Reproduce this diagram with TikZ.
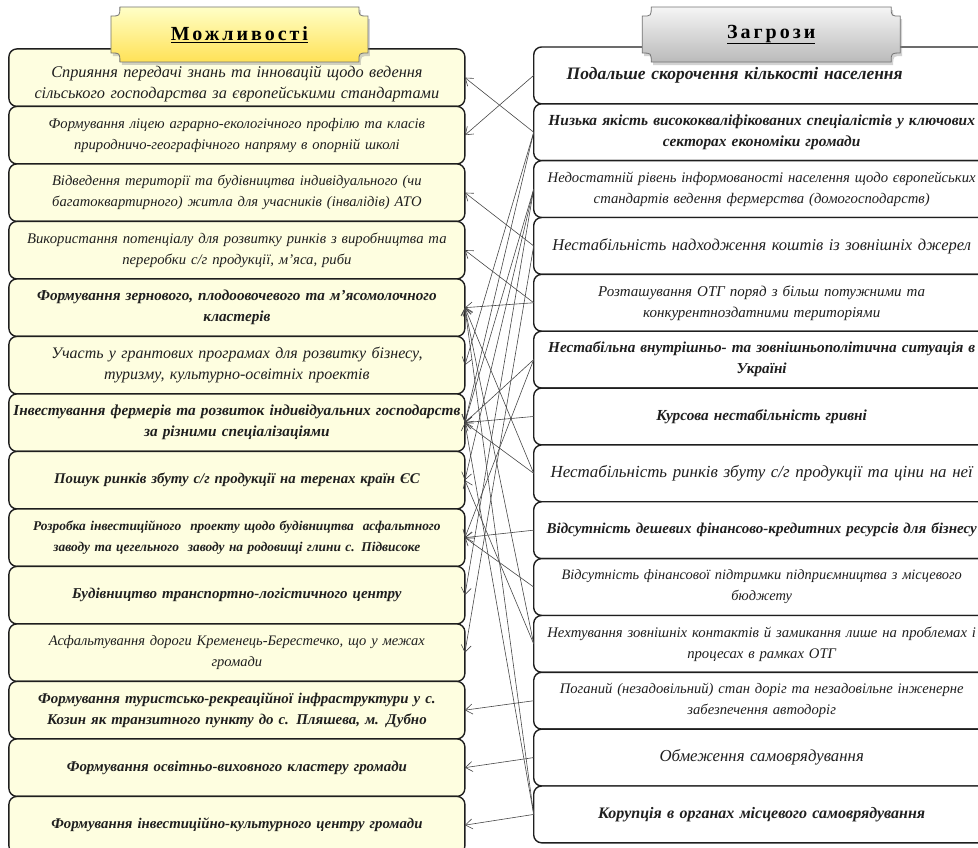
\documentclass[tikz,border=0pt]{standalone}
\usepackage{fontspec}
\setmainfont{Liberation Serif}
\newfontfamily\hdrfont[LetterSpace=15]{Liberation Serif}
\usepackage{tikz}
\usetikzlibrary{arrows.meta,
                matrix,
                positioning,
                shadows}
\definecolor{cellY}{HTML}{FEFEE0}
\definecolor{lineK}{HTML}{1E1E1E}

% plaque with concave corners: centre, half width, half height, style
\newcommand\plaque[4]{%
  \draw[#4] ([shift={(-#2+9,#3)}]#1) -- ([shift={(#2-9,#3)}]#1)
     .. controls ([shift={(#2-9,#3-9)}]#1) .. ([shift={(#2,#3-9)}]#1)
     -- ([shift={(#2,-#3+9)}]#1)
     .. controls ([shift={(#2-9,-#3+9)}]#1) .. ([shift={(#2-9,-#3)}]#1)
     -- ([shift={(-#2+9,-#3)}]#1)
     .. controls ([shift={(-#2+9,-#3+9)}]#1) .. ([shift={(-#2,-#3+9)}]#1)
     -- ([shift={(-#2,#3-9)}]#1)
     .. controls ([shift={(-#2+9,#3-9)}]#1) .. ([shift={(-#2+9,#3)}]#1)
     -- cycle;}

\begin{document}
\begin{tikzpicture}[x=1pt, y=1pt,
node distance = 67pt,
  MTRX/.style = {matrix of nodes, inner sep=0pt,
                 nodes={draw=lineK, line width=1.4pt, rounded corners=8pt,
                        minimum width=456pt,
                        text width=452pt, align=center, text=black!88,
                        anchor=center, inner sep=1pt, outer sep=0pt},
                 row sep=-1.4pt},
    IT/.style = {font=\fontsize{#1}{21}\selectfont\itshape},
    BI/.style = {font=\fontsize{#1}{21}\selectfont\bfseries\itshape},
  link/.style = {-{Straight Barb[length=7pt,width=10pt]},
                 line width=0.6pt, draw=black!72},
  plqL/.style = {draw=black!55, line width=0.8pt,
                 top color=yellow!22, bottom color=orange!35!yellow!66,
                 drop shadow={opacity=0.35, shadow xshift=2pt, shadow yshift=-3pt}},
  plqR/.style = {draw=black!55, line width=0.8pt,
                 top color=black!4, bottom color=black!27,
                 drop shadow={opacity=0.35, shadow xshift=2pt, shadow yshift=-3pt}}
                        ]
\useasboundingbox (0,0) rectangle (978,-848);
\clip (0,0) rectangle (978,-848);
% left column
\matrix  (m1) [MTRX, anchor=north west,
               nodes={fill=cellY, minimum height=57.5pt}] at (8,-48)
{
|[IT=16.3]| {\rule{0pt}{24pt}Сприяння передачі знань та інновацій щодо ведення\\ сільського господарства за європейськими стандартами}\\
|[IT=14.6]| {Формування ліцею аграрно-екологічного профілю та класів\\ природничо-географічного напряму в опорній школі}\\
|[IT=14.6]| {Відведення території та будівництва індивідуального (чи\\ багатоквартирного) житла для учасників (інвалідів) АТО}\\
|[IT=14.7]| {Використання потенціалу для розвитку ринків з виробництва та\\ переробки с/г продукції, м’яса, риби}\\
|[BI=15.2]| {Формування зернового, плодоовочевого та м’ясомолочного\\ кластерів}\\
|[IT=16]|   {Участь у грантових програмах для розвитку бізнесу,\\ туризму, культурно-освітніх проектів}\\
|[BI=15.3]| {Інвестування фермерів та розвиток індивідуальних господарств\\ за різними спеціалізаціями}\\
|[BI=14.8]| {Пошук ринків збуту с/г продукції на теренах країн ЄС}\\
|[BI=13.4]| {Розробка інвестиційного \ проекту щодо будівництва \ асфальтного\\ заводу та цегельного \ заводу на родовищі глини с. Підвисоке}\\
|[BI=15]|   {Будівництво транспортно-логістичного центру}\\
|[IT=14.5]| {Асфальтування дороги Кременець-Берестечко, що у межах\\ громади}\\
|[BI=14.9]| {Формування туристсько-рекреаційної інфраструктури у с.\\ Козин як транзитного пункту до с. Пляшева, м. Дубно}\\
|[BI=14.9]| {Формування освітньо-виховного кластеру громади}\\
|[BI=14.8]| {Формування інвестиційно-культурного центру громади}\\
};
% right column
\matrix  (m2) [MTRX, right=67pt of m1, yshift=6.5pt,
               nodes={fill=white, minimum height=56.85pt}]
{
|[BI=17.5]| {\hspace*{-54pt}Подальше скорочення кількості населення}\\
|[BI=15.4]| {Низька якість висококваліфікованих спеціалістів у ключових\\ секторах економіки громади}\\
|[IT=14.7]| {Недостатній рівень інформованості населення щодо європейських\\ стандартів ведення фермерства (домогосподарств)}\\
|[IT=16.5]| {Нестабільність надходження коштів із зовнішніх джерел}\\
|[IT=15]|   {Розташування ОТГ поряд з більш потужними та\\ конкурентноздатними територіями}\\
|[BI=15.2]| {Нестабільна внутрішньо- та зовнішньополітична ситуація в\\ Україні}\\
|[BI=15.3]| {Курсова нестабільність гривні}\\
|[IT=16.9]| {Нестабільність ринків збуту с/г продукції та ціни на неї}\\
|[BI=15]|   {Відсутність дешевих фінансово-кредитних ресурсів для бізнесу}\\
|[IT=14.4]| {Відсутність фінансової підтримки підприємництва з місцевого\\ бюджету}\\
|[IT=14.7]| {Нехтування зовнішніх контактів й замикання лише на проблемах і\\ процесах в рамках ОТГ}\\
|[IT=14.6]| {Поганий (незадовільний) стан доріг та незадовільне інженерне\\ забезпечення автодоріг}\\
|[IT=16.8]| {Обмеження самоврядування}\\
|[BI=16]|   {Корупція в органах місцевого самоврядування}\\
};
% links threat -> opportunity
\draw[link] (m2-1-1.west)  -- (m1-2-1.east);
\draw[link] (m2-2-1.west)  -- (m1-1-1.east);
\draw[link] (m2-2-1.west)  -- (m1-6-1.east);
\draw[link] (m2-2-1.west)  -- (m1-7-1.east);
\draw[link] (m2-3-1.west)  -- (m1-7-1.east);
\draw[link] (m2-3-1.west)  -- (m1-8-1.east);
\draw[link] (m2-3-1.west)  -- (m1-10-1.east);
\draw[link] (m2-4-1.west)  -- (m1-3-1.east);
\draw[link] (m2-4-1.west)  -- (m1-11-1.east);
\draw[link] (m2-5-1.west)  -- (m1-4-1.east);
\draw[link] (m2-5-1.west)  -- (m1-5-1.east);
\draw[link] (m2-6-1.west)  -- (m1-7-1.east);
\draw[link] (m2-6-1.west)  -- (m1-9-1.east);
\draw[link] (m2-7-1.west)  -- (m1-7-1.east);
\draw[link] (m2-8-1.west)  -- (m1-5-1.east);
\draw[link] (m2-8-1.west)  -- (m1-7-1.east);
\draw[link] (m2-9-1.west)  -- (m1-9-1.east);
\draw[link] (m2-10-1.west) -- (m1-9-1.east);
\draw[link] (m2-11-1.west) -- (m1-5-1.east);
\draw[link] (m2-11-1.west) -- (m1-8-1.east);
\draw[link] (m2-12-1.west) -- (m1-12-1.east);
\draw[link] (m2-13-1.west) -- (m1-13-1.east);
\draw[link] (m2-14-1.west) -- (m1-14-1.east);
\draw[link] (m2-14-1.west) -- (m1-5-1.east);
\draw[link] (m2-14-1.west) -- (m1-7-1.east);
% headers
\coordinate (pL) at ([shift={(2.5,13.5)}]m1.north);
\coordinate (pR) at ([shift={(9.5,11.5)}]m2.north);
\plaque{pL}{128.5}{27.5}{plqL}
\plaque{pR}{129}{27.5}{plqR}
\node (hL) at (pL) {\fontsize{20}{23}\selectfont\hdrfont\bfseries\underline{Можливості}};
\node (hR) at (pR) {\fontsize{20}{23}\selectfont\hdrfont\bfseries\underline{Загрози}};
\end{tikzpicture}
\end{document}
